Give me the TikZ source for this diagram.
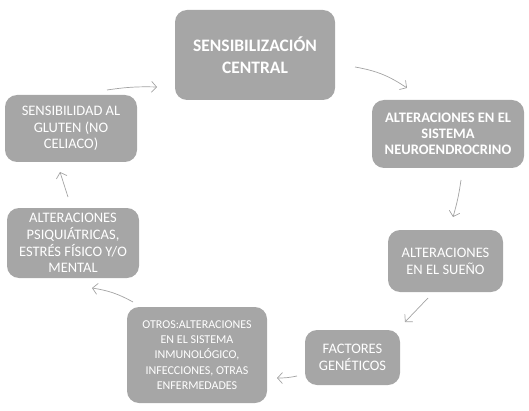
\documentclass[tikz,border=0pt]{standalone}
\usepackage{fontspec}
\setmainfont{Carlito}
\usetikzlibrary{arrows.meta}
\definecolor{boxgray}{HTML}{A6A6A6}
\definecolor{arrgray}{HTML}{A3A3A3}
\tikzset{
  box/.style={fill=boxgray, rounded corners=12pt, text=white, align=center, inner sep=2pt},
  txt/.style={font=\fontsize{14.5}{16.7}\selectfont},
  conn/.style={draw=arrgray, line width=0.7pt, -{Straight Barb[length=5pt,width=11pt]}}
}
\begin{document}
\begin{tikzpicture}[x=1pt,y=1pt]
\useasboundingbox (0,0) rectangle (529,410);
\node[box, minimum width=160pt, minimum height=90pt, font=\fontsize{17.5}{22}\selectfont\bfseries] (top) at (255,355) {SENSIBILIZACIÓN\\CENTRAL};
\node[box, minimum width=152pt, minimum height=68pt, font=\fontsize{14.5}{16}\selectfont\bfseries] (neuro) at (448,276) {ALTERACIONES EN EL\\SISTEMA\\NEUROENDROCRINO};
\node[box, txt, minimum width=115pt, minimum height=62pt] (sueno) at (445.5,149) {ALTERACIONES\\EN EL SUEÑO};
\node[box, txt, minimum width=95pt, minimum height=55pt] (fact) at (352.5,52.5) {FACTORES\\GENÉTICOS};
\node[box, minimum width=140pt, minimum height=96pt, font=\fontsize{12}{15.3}\selectfont] (otros) at (197,55) {OTROS:ALTERACIONES\\EN EL SISTEMA\\INMUNOLÓGICO,\\INFECCIONES, OTRAS\\ENFERMEDADES};
\node[box, txt, minimum width=132pt, minimum height=70pt] (psiq) at (73,167) {ALTERACIONES\\PSIQUIÁTRICAS,\\ESTRÉS FÍSICO Y/O\\MENTAL};
\node[box, txt, minimum width=132pt, minimum height=67pt] (glut) at (71,281.5) {SENSIBILIDAD AL\\GLUTEN (NO\\CELIACO)};
\coordinate (a1s) at (355,343);
\coordinate (a1e) at (407,322);
\coordinate (a2s) at (461,230);
\coordinate (a2e) at (453,193);
\coordinate (a3s) at (428,112);
\coordinate (a3e) at (405,88);
\coordinate (a4s) at (297,34);
\coordinate (a4e) at (277,32);
\coordinate (a5s) at (133,108);
\coordinate (a5e) at (92,122);
\coordinate (a6s) at (68,213);
\coordinate (a6e) at (60,238);
\coordinate (a7s) at (107,320);
\coordinate (a7e) at (157,323);
\draw[conn] (a1s) to[bend left=12] (a1e);
\draw[conn] (a2s) to[bend left=4] (a2e);
\draw[conn] (a3s) -- (a3e);
\draw[conn] (a4s) to[bend left=6] (a4e);
\draw[conn] (a5s) to[bend right=10] (a5e);
\draw[conn] (a6s) -- (a6e);
\draw[conn] (a7s) to[bend left=5] (a7e);
\end{tikzpicture}
\end{document}
